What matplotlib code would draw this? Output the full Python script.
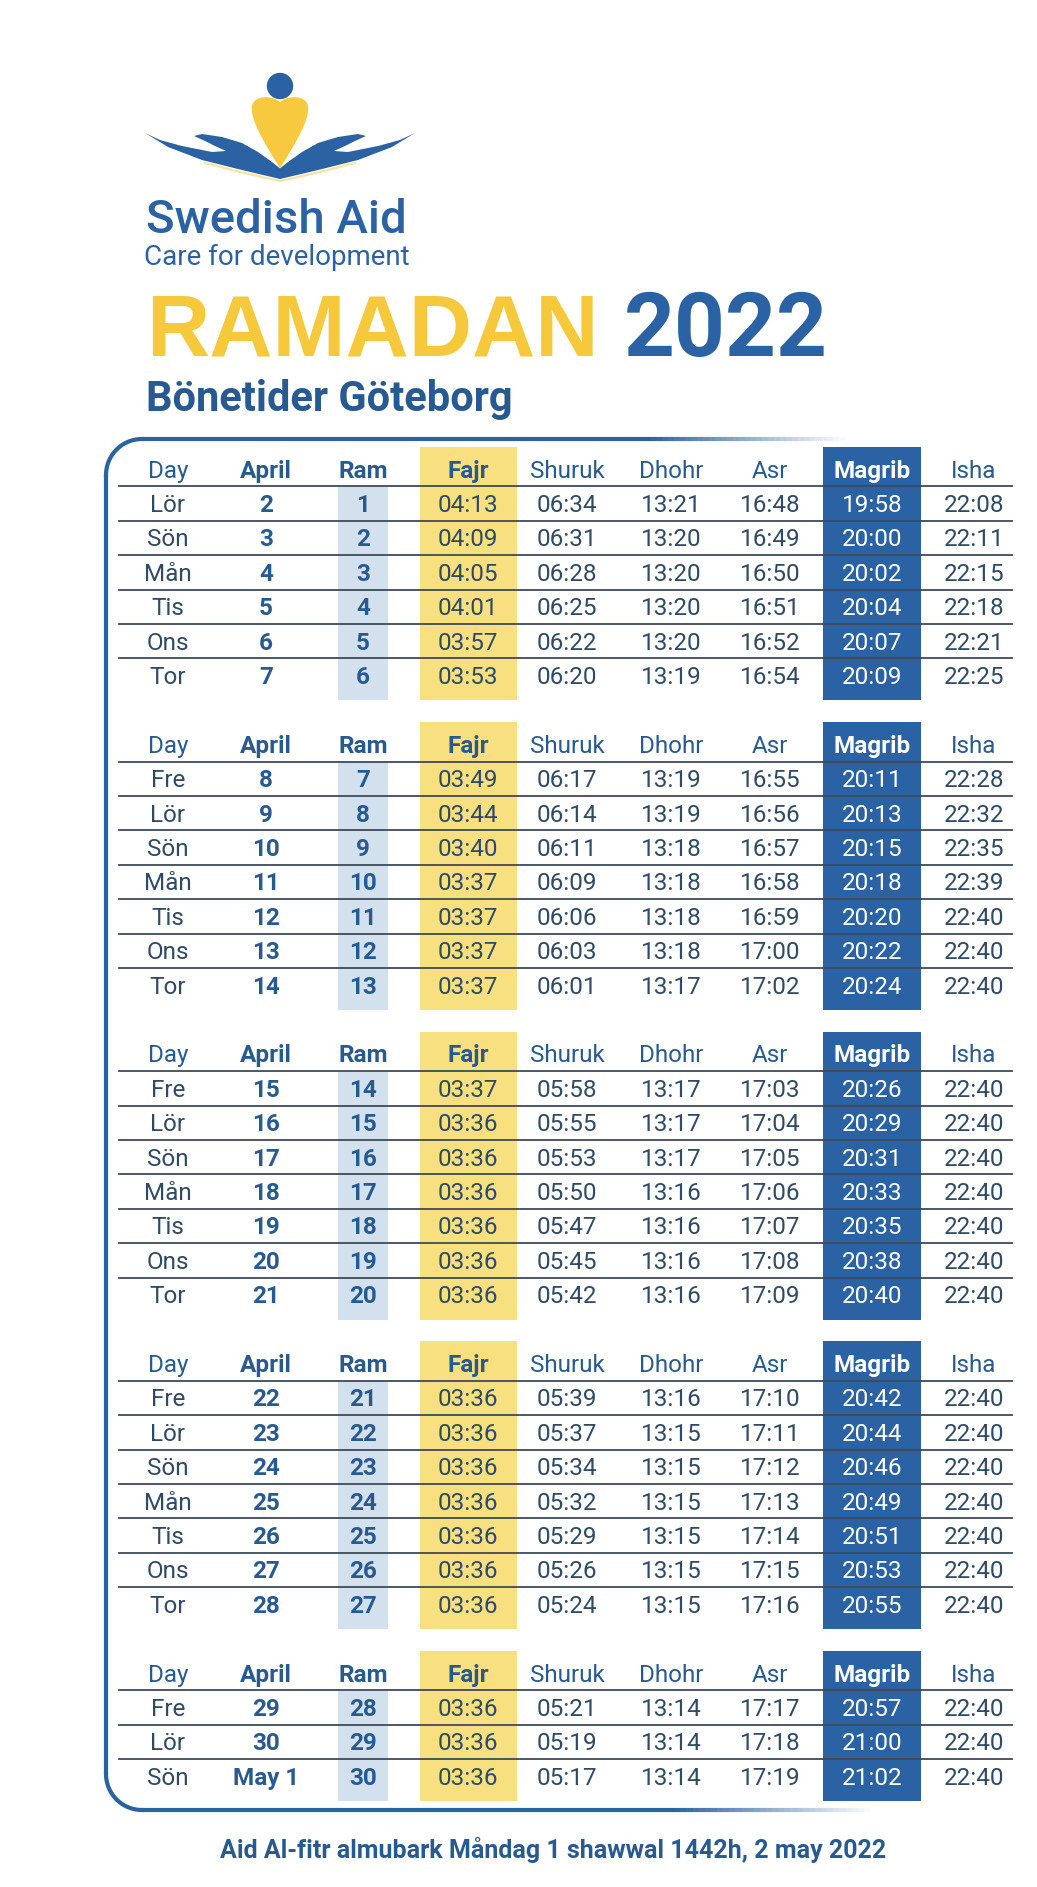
import matplotlib.pyplot as plt
from matplotlib.patches import Rectangle, Circle, PathPatch, Polygon
from matplotlib.path import Path
import numpy as np

plt.rcParams['font.family'] = ['Roboto', 'DejaVu Sans']

# ---- data ----
headers = ['Day', 'April', 'Ram', 'Fajr', 'Shuruk', 'Dhohr', 'Asr', 'Magrib', 'Isha']
block_sizes = [6, 7, 7, 7, 3]

days = ['Lör', 'Sön', 'Mån', 'Tis', 'Ons', 'Tor',
        'Fre', 'Lör', 'Sön', 'Mån', 'Tis', 'Ons', 'Tor',
        'Fre', 'Lör', 'Sön', 'Mån', 'Tis', 'Ons', 'Tor',
        'Fre', 'Lör', 'Sön', 'Mån', 'Tis', 'Ons', 'Tor',
        'Fre', 'Lör', 'Sön']
dates = ['2', '3', '4', '5', '6', '7',
         '8', '9', '10', '11', '12', '13', '14',
         '15', '16', '17', '18', '19', '20', '21',
         '22', '23', '24', '25', '26', '27', '28',
         '29', '30', 'May 1']
ram = ['1', '2', '3', '4', '5', '6',
       '7', '8', '9', '10', '11', '12', '13',
       '14', '15', '16', '17', '18', '19', '20',
       '21', '22', '23', '24', '25', '26', '27',
       '28', '29', '30']
fajr = ['04:13', '04:09', '04:05', '04:01', '03:57', '03:53',
        '03:49', '03:44', '03:40', '03:37', '03:37', '03:37', '03:37',
        '03:37', '03:36', '03:36', '03:36', '03:36', '03:36', '03:36',
        '03:36', '03:36', '03:36', '03:36', '03:36', '03:36', '03:36',
        '03:36', '03:36', '03:36']
shuruk = ['06:34', '06:31', '06:28', '06:25', '06:22', '06:20',
          '06:17', '06:14', '06:11', '06:09', '06:06', '06:03', '06:01',
          '05:58', '05:55', '05:53', '05:50', '05:47', '05:45', '05:42',
          '05:39', '05:37', '05:34', '05:32', '05:29', '05:26', '05:24',
          '05:21', '05:19', '05:17']
dhohr = ['13:21', '13:20', '13:20', '13:20', '13:20', '13:19',
         '13:19', '13:19', '13:18', '13:18', '13:18', '13:18', '13:17',
         '13:17', '13:17', '13:17', '13:16', '13:16', '13:16', '13:16',
         '13:16', '13:15', '13:15', '13:15', '13:15', '13:15', '13:15',
         '13:14', '13:14', '13:14']
asr = ['16:48', '16:49', '16:50', '16:51', '16:52', '16:54',
       '16:55', '16:56', '16:57', '16:58', '16:59', '17:00', '17:02',
       '17:03', '17:04', '17:05', '17:06', '17:07', '17:08', '17:09',
       '17:10', '17:11', '17:12', '17:13', '17:14', '17:15', '17:16',
       '17:17', '17:18', '17:19']
magrib = ['19:58', '20:00', '20:02', '20:04', '20:07', '20:09',
          '20:11', '20:13', '20:15', '20:18', '20:20', '20:22', '20:24',
          '20:26', '20:29', '20:31', '20:33', '20:35', '20:38', '20:40',
          '20:42', '20:44', '20:46', '20:49', '20:51', '20:53', '20:55',
          '20:57', '21:00', '21:02']
isha = ['22:08', '22:11', '22:15', '22:18', '22:21', '22:25',
        '22:28', '22:32', '22:35', '22:39', '22:40', '22:40', '22:40',
        '22:40', '22:40', '22:40', '22:40', '22:40', '22:40', '22:40',
        '22:40', '22:40', '22:40', '22:40', '22:40', '22:40', '22:40',
        '22:40', '22:40', '22:40']

columns = [days, dates, ram, fajr, shuruk, dhohr, asr, magrib, isha]

# ---- style ----
BLUE = '#2a62a3'
DARK_BLUE = '#285a92'
YELLOW = '#f5c93b'
FAJR_BG = '#f8df80'
RAM_BG = '#d3e0ee'
TXT = '#2e4a66'
LINE = '#3d4a58'

col_x = [168, 266, 363, 468, 567, 671, 770, 872, 974]
col_w = {2: 50, 3: 97, 7: 98}
bold_cols = {1, 2}
step = 34.4
fs = 17.5
cap = fs / 72 * 100 * 0.711


def put(x, y, s, **kw):
    # y is the visual middle of the capitals
    ax.text(x, y + cap / 2, s, ha='center', va='baseline', **kw)


fig = plt.figure(figsize=(10.37, 18.87), dpi=100)
ax = fig.add_axes([0, 0, 1, 1])
ax.set_xlim(0, 1037)
ax.set_ylim(1887, 0)
ax.axis('off')

# ---- logo ----
ax.add_patch(Circle((280, 86), 12.5, color=BLUE))
heart = Path([(280, 168), (262, 140), (250, 118), (252, 106),
              (254, 95), (272, 95), (280, 102),
              (288, 95), (306, 95), (308, 106),
              (310, 118), (298, 140), (280, 168)],
             [Path.MOVETO] + [Path.CURVE4] * 12)
ax.add_patch(PathPatch(heart, fc='#f6c93e', ec='none', zorder=2))
left = [(145, 133), (168, 147), (202, 160), (242, 170), (280, 179),
        (282, 170), (272, 162), (258, 152), (242, 143), (222, 137),
        (202, 134), (194, 136), (205, 141), (215, 146), (226, 151),
        (212, 152), (182, 146), (160, 140)]
right = [(560 - x, y) for x, y in left]
ax.add_patch(Polygon(left, closed=True, fc=BLUE, ec='none', zorder=1))
ax.add_patch(Polygon(right, closed=True, fc=BLUE, ec='none', zorder=1))
ax.plot([205, 242, 280, 318, 355], [163, 172.5, 181, 172.5, 163],
        color='#f7e3a0', lw=1.5, zorder=0)

ax.text(146, 233, 'Swedish Aid', fontsize=34, fontweight='medium', color=BLUE)
ax.text(144, 265, 'Care for development', fontsize=20, color=BLUE)

ax.text(146, 356, 'RAMADAN', fontsize=63, fontweight='bold', color=YELLOW,
        family=['Liberation Sans', 'DejaVu Sans'])
ax.text(624, 356, '2022', fontsize=64, fontweight='bold', color=BLUE)
ax.text(146, 411, 'Bönetider Göteborg', fontsize=30, fontweight='bold', color=DARK_BLUE)

# ---- frame (open on the right, fading ends) ----
fx0, fy0, fy1, r = 106, 439, 1810, 36
t = np.linspace(0, np.pi / 2, 30)
ax.plot([fx0, fx0], [fy0 + r, fy1 - r], color=BLUE, lw=3, solid_capstyle='butt')
ax.plot(fx0 + r - r * np.cos(t), fy0 + r - r * np.sin(t), color=BLUE, lw=3)
ax.plot(fx0 + r - r * np.cos(t), fy1 - r + r * np.sin(t), color=BLUE, lw=3)
for yy, xend in [(fy0, 845), (fy1, 870)]:
    xs = np.linspace(fx0 + r, xend, 120)
    fade = np.clip((xend - xs) / 200, 0, 1)
    for i in range(len(xs) - 1):
        ax.plot(xs[i:i + 2], [yy, yy], color=BLUE, lw=3, alpha=fade[i],
                solid_capstyle='butt')

# ---- table blocks ----
head_y = 469
start = 0
for n in block_sizes:
    rows_y = [head_y + step * (k + 1) for k in range(n)]
    bottom = rows_y[-1] + 25
    top = head_y - 22
    ax.add_patch(Rectangle((col_x[3] - col_w[3] / 2, top), col_w[3], bottom - top,
                           fc=FAJR_BG, ec='none', zorder=0))
    ax.add_patch(Rectangle((col_x[7] - col_w[7] / 2, top), col_w[7], bottom - top,
                           fc=BLUE, ec='none', zorder=0))
    ax.add_patch(Rectangle((col_x[2] - col_w[2] / 2, head_y + 18), col_w[2],
                           bottom - head_y - 18, fc=RAM_BG, ec='none', zorder=0))
    for j, h in enumerate(headers):
        if j == 7:
            put(col_x[j], head_y, h, fontsize=fs, fontweight='bold', color='white')
        elif j in (1, 2, 3):
            put(col_x[j], head_y, h, fontsize=fs, fontweight='bold', color=DARK_BLUE)
        else:
            put(col_x[j], head_y, h, fontsize=fs, color=DARK_BLUE)
    for k, yy in enumerate(rows_y):
        ax.plot([119, 1012], [yy - 17, yy - 17], color=LINE, lw=1.3, zorder=1)
        i = start + k
        for j, col in enumerate(columns):
            if j == 7:
                put(col_x[j], yy, col[i], fontsize=fs, color='white', zorder=3)
            elif j in bold_cols:
                put(col_x[j], yy, col[i], fontsize=fs, fontweight='bold',
                    color=DARK_BLUE, zorder=3)
            else:
                put(col_x[j], yy, col[i], fontsize=fs, color=TXT, zorder=3)
    start += n
    head_y = rows_y[-1] + 2 * step

ax.text(553, 1850 + 8, 'Aid Al-fitr almubark Måndag 1 shawwal 1442h, 2 may 2022',
        fontsize=18, fontweight='bold', color=DARK_BLUE, ha='center', va='baseline')

fig.savefig('out.png', dpi=100)
